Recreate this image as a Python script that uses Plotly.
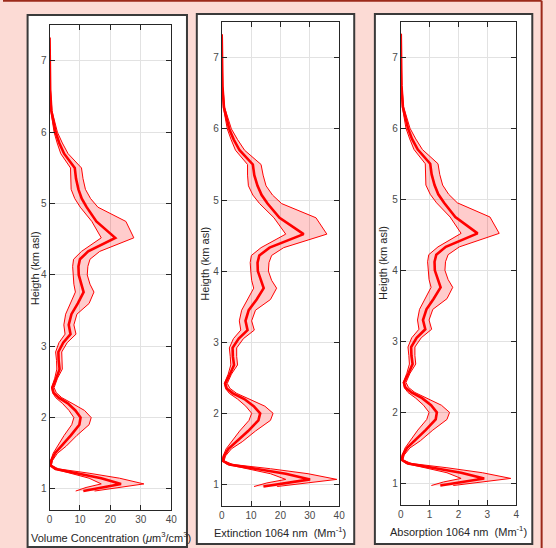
import plotly.graph_objects as go

# ---------------- data ----------------
height_km = [7.33, 7.0, 6.6, 6.3, 6.15, 6.0, 5.85, 5.7, 5.5, 5.35, 5.2, 5.07, 4.95, 4.75, 4.52,
             4.33, 4.22, 4.12, 4.0, 3.87, 3.76, 3.6, 3.45, 3.3, 3.17,
             3.05, 2.92, 2.8, 2.68, 2.55, 2.42, 2.35, 2.28, 2.2, 2.1,
             2.0, 1.9, 1.75, 1.6, 1.5, 1.4, 1.33, 1.28, 1.22, 1.15,
             1.07, 1.02, 0.97]

vol_mean = [0.0, 0.05, 0.2, 0.6, 1.2, 2.0, 3.2, 4.8, 8.3, 8.7, 9.5, 10.6, 12.2, 15.4, 21.6,
            12.7, 10.0, 9.5, 9.6, 10.4, 11.2, 9.3, 7.2, 6.3, 6.9,
            4.5, 2.9, 3.0, 3.3, 2.2, 0.9, 1.3, 3.0, 6.0, 8.5,
            10.2, 9.8, 7.0, 4.0, 1.8, 0.6, 0.3, 2.0, 9.0, 17.0,
            23.5, 17.0, 11.1]
vol_low = [0.0, 0.03, 0.15, 0.45, 0.9, 1.5, 2.5, 3.7, 6.9, 6.9, 7.1, 8.3, 10.1, 13.9, 17.0,
           10.5, 7.9, 7.6, 7.7, 8.0, 8.5, 6.9, 5.3, 4.7, 5.1,
           3.1, 2.0, 2.3, 2.4, 1.7, 0.7, 1.0, 2.0, 4.2, 6.4,
           8.0, 7.3, 4.8, 2.5, 1.2, 0.4, 0.1, 1.5, 7.0, 13.0,
           17.0, 12.0, 8.6]
vol_high = [0.0, 0.08, 0.3, 0.8, 1.7, 2.6, 4.2, 6.1, 10.5, 11.0, 11.8, 13.5, 15.9, 25.1, 27.7,
            16.5, 13.3, 12.6, 12.4, 13.3, 14.6, 13.0, 9.0, 8.0, 8.7,
            5.8, 4.0, 4.0, 4.2, 2.6, 1.5, 2.2, 4.0, 7.4, 11.5,
            13.7, 13.0, 9.0, 5.5, 2.6, 1.0, 0.6, 3.0, 13.0, 23.0,
            31.0, 22.0, 14.8]

ext_mean = [0.0, 0.06, 0.26, 0.77, 1.54, 2.56, 4.1, 6.1, 10.6, 11.1, 12.2, 13.6, 15.6, 19.7, 27.9,
            16.3, 12.8, 12.2, 12.3, 13.3, 14.3, 11.9, 9.2, 8.1, 8.8,
            5.8, 3.7, 3.8, 4.2, 2.8, 1.2, 1.7, 3.8, 7.7, 10.9,
            13.1, 12.5, 9.0, 5.1, 2.3, 0.8, 0.4, 2.6, 11.5, 21.8,
            30.1, 21.8, 14.2]
ext_low = [0.0, 0.04, 0.19, 0.58, 1.15, 1.9, 3.2, 4.7, 8.8, 8.8, 9.1, 10.6, 12.9, 17.8, 21.8,
           13.4, 10.1, 9.7, 9.9, 10.2, 10.9, 8.8, 6.8, 6.0, 6.5,
           4.0, 2.6, 2.9, 3.1, 2.2, 0.9, 1.3, 2.6, 5.4, 8.2,
           10.2, 9.3, 6.1, 3.2, 1.5, 0.5, 0.13, 1.9, 9.0, 16.6,
           21.8, 15.4, 11.0]
ext_high = [0.0, 0.1, 0.38, 1.0, 2.2, 3.3, 5.4, 7.8, 13.4, 14.1, 15.1, 17.3, 20.4, 32.1, 35.8,
            21.1, 17.0, 16.1, 15.9, 17.0, 18.7, 16.6, 11.5, 10.2, 11.1,
            7.4, 5.1, 5.1, 5.4, 3.3, 1.9, 2.8, 5.1, 9.5, 14.7,
            17.5, 16.6, 11.5, 7.0, 3.3, 1.3, 0.8, 3.8, 16.6, 29.4,
            39.2, 28.2, 18.9]

abs_mean = [0.0, 0.006, 0.025, 0.074, 0.15, 0.25, 0.39, 0.59, 1.02, 1.07, 1.17, 1.30, 1.50, 1.89, 2.66,
            1.56, 1.23, 1.17, 1.18, 1.28, 1.38, 1.14, 0.89, 0.77, 0.85,
            0.55, 0.36, 0.37, 0.41, 0.27, 0.11, 0.16, 0.37, 0.74, 1.05,
            1.25, 1.21, 0.86, 0.49, 0.22, 0.074, 0.037, 0.25, 1.11, 2.09,
            2.89, 2.09, 1.37]
abs_low = [0.0, 0.004, 0.018, 0.055, 0.11, 0.18, 0.31, 0.46, 0.85, 0.85, 0.87, 1.02, 1.24, 1.71, 2.09,
           1.29, 0.97, 0.93, 0.95, 0.98, 1.05, 0.85, 0.65, 0.58, 0.63,
           0.38, 0.25, 0.28, 0.30, 0.21, 0.086, 0.12, 0.25, 0.52, 0.79,
           0.98, 0.90, 0.59, 0.31, 0.15, 0.05, 0.012, 0.18, 0.86, 1.60,
           2.09, 1.48, 1.06]
abs_high = [0.0, 0.01, 0.037, 0.098, 0.21, 0.32, 0.52, 0.75, 1.29, 1.35, 1.45, 1.66, 1.96, 3.09, 3.41,
            2.03, 1.64, 1.55, 1.53, 1.64, 1.80, 1.60, 1.11, 0.98, 1.07,
            0.71, 0.49, 0.49, 0.52, 0.32, 0.18, 0.27, 0.49, 0.91, 1.41,
            1.69, 1.60, 1.11, 0.68, 0.32, 0.12, 0.074, 0.37, 1.60, 2.83,
            3.81, 2.71, 1.82]

x_titles = ["Volume Concentration (<i>μ</i>m<sup>3</sup>/cm<sup>3</sup>)",
            "Extinction 1064 nm  (Mm<sup>-1</sup>)",
            "Absorption 1064 nm  (Mm<sup>-1</sup>)"]
y_title = "Heigth (km asl)"
x_ranges = [[0, 40], [0, 40], [0, 4]]
x_dticks = [10, 10, 1]
y_range = [0.7, 7.5]

# ---------------- layout geometry (pixels) ----------------
W, H = 556, 548
def px(x): return x / W
def py(y): return 1 - y / H

axes_px = [(47.3, 171.0, 25.3, 510.3), (222.3, 341.7, 22.3, 505.7), (404.3, 521.7, 21.7, 504.7)]
boxes_px = [(25, 187, 15, 547), (197, 357, 14, 544), (378, 538, 14, 544)]
ytitle_x = [32, 205, 386]
xtitle_y = [537, 532, 531]
xtitle_x = [110, 282, 463]

FONT = "Liberation Sans, Arial, sans-serif"
RED = "#ff0000"

fig = go.Figure()
series = [(vol_mean, vol_low, vol_high), (ext_mean, ext_low, ext_high), (abs_mean, abs_low, abs_high)]
for i, (m, lo, hi) in enumerate(series):
    xa = "x" if i == 0 else f"x{i+1}"
    ya = "y" if i == 0 else f"y{i+1}"
    fig.add_trace(go.Scatter(x=lo + hi[::-1], y=height_km + height_km[::-1], fill="toself",
                             fillcolor="rgba(255,0,0,0.2)", line=dict(width=0),
                             mode="lines", hoverinfo="skip", xaxis=xa, yaxis=ya, showlegend=False))
    fig.add_trace(go.Scatter(x=lo, y=height_km, mode="lines", line=dict(color=RED, width=1),
                             xaxis=xa, yaxis=ya, showlegend=False))
    fig.add_trace(go.Scatter(x=hi, y=height_km, mode="lines", line=dict(color=RED, width=1),
                             xaxis=xa, yaxis=ya, showlegend=False))
    fig.add_trace(go.Scatter(x=m, y=height_km, mode="lines", line=dict(color=RED, width=2.6),
                             xaxis=xa, yaxis=ya, showlegend=False))

shapes = []
# outer dark-red frame (top and right edges visible)
shapes.append(dict(type="line", xref="paper", yref="paper", x0=0, x1=px(547.5), y0=py(0.8), y1=py(0.8),
                   line=dict(color="#9c2a1a", width=2), layer="below"))
shapes.append(dict(type="line", xref="paper", yref="paper", x0=px(547.5), x1=px(547.5), y0=0, y1=py(0.8),
                   line=dict(color="#9c2a1a", width=2), layer="below"))
for (x0, x1, y0, y1) in boxes_px:
    shapes.append(dict(type="rect", xref="paper", yref="paper", x0=px(x0), x1=px(x1), y0=py(y1), y1=py(y0),
                       fillcolor="white", line=dict(color="#3a3a3a", width=2), layer="below"))

annotations = []
axis_common = dict(showline=True, linecolor="#262626", linewidth=1, mirror="ticks", ticks="inside",
                   ticklen=5, tickcolor="#262626", tickwidth=1, showgrid=True, gridcolor="#e2e2e2",
                   gridwidth=1, zeroline=False, tickfont=dict(family=FONT, size=10, color="#4a4a4a"))
layout_axes = {}
for i, (ax0, ax1, ay0, ay1) in enumerate(axes_px):
    xk = "xaxis" if i == 0 else f"xaxis{i+1}"
    yk = "yaxis" if i == 0 else f"yaxis{i+1}"
    ya = "y" if i == 0 else f"y{i+1}"
    xa = "x" if i == 0 else f"x{i+1}"
    layout_axes[xk] = dict(domain=[px(ax0), px(ax1)], range=x_ranges[i], dtick=x_dticks[i], tick0=0,
                           anchor=ya, **axis_common)
    layout_axes[yk] = dict(domain=[py(ay1), py(ay0)], range=y_range, dtick=1, tick0=0,
                           anchor=xa, **axis_common)
    annotations.append(dict(text=y_title, xref="paper", yref="paper", x=px(ytitle_x[i]),
                            y=py((ay0 + ay1) / 2), textangle=-90, showarrow=False,
                            xanchor="center", yanchor="middle",
                            font=dict(family=FONT, size=11, color="#262626")))
    annotations.append(dict(text=x_titles[i], xref="paper", yref="paper", x=px(xtitle_x[i]),
                            y=py(xtitle_y[i]), showarrow=False, xanchor="center", yanchor="middle",
                            font=dict(family=FONT, size=11, color="#262626")))

fig.update_layout(width=W, height=H, margin=dict(l=0, r=0, t=0, b=0),
                  paper_bgcolor="#fcdbd5", plot_bgcolor="white",
                  shapes=shapes, annotations=annotations, showlegend=False, **layout_axes)

fig.write_html("out.html", config={"displayModeBar": False},
               post_script="document.body.style.margin='0px';document.body.style.overflow='hidden';")
